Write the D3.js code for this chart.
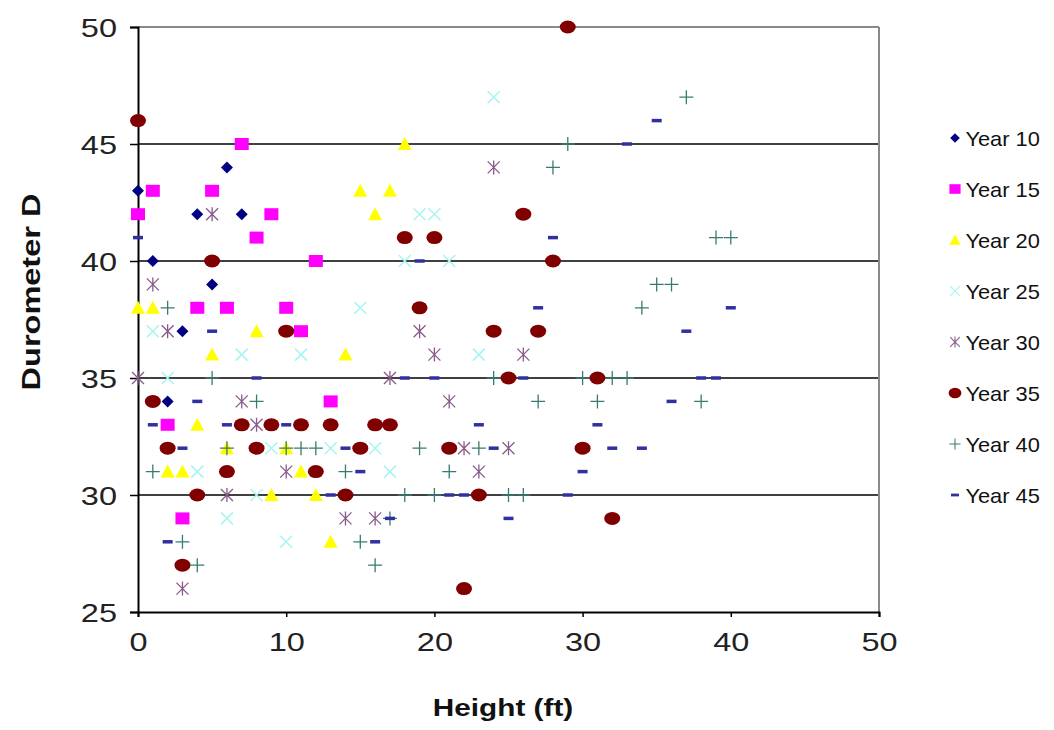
<!DOCTYPE html>
<html><head><meta charset="utf-8">
<script src="https://cdn.jsdelivr.net/npm/d3@7"></script>
<style>html,body{margin:0;padding:0;background:#fff;}svg{display:block;}</style>
</head><body>
<svg id="chart" width="1054" height="730"></svg>
<script>
const xTicks = [0,10,20,30,40,50];
const yTicks = [25,30,35,40,45,50];
const seriesNames = ["Year 10","Year 15","Year 20","Year 25","Year 30","Year 35","Year 40","Year 45"];
const year10 = [[0,43],[6,44],[4,42],[7,42],[1,40],[5,39],[3,37],[2,34],[9,33]];
const year15 = [[7,45],[1,43],[5,43],[0,42],[9,42],[8,41],[12,40],[4,38],[6,38],[10,38],[11,37],[13,34],[2,33],[3,29]];
const year20 = [[18,45],[15,43],[17,43],[16,42],[0,38],[1,38],[8,37],[5,36],[14,36],[4,33],[6,32],[10,32],[2,31],[3,31],[11,31],[9,30],[12,30],[13,28]];
const year25 = [[24,47],[19,42],[20,42],[18,40],[21,40],[15,38],[1,37],[7,36],[11,36],[23,36],[2,35],[9,32],[13,32],[16,32],[4,31],[17,31],[8,30],[6,29],[10,28]];
const year30 = [[24,44],[5,42],[1,39],[2,37],[19,37],[20,36],[26,36],[0,35],[17,35],[7,34],[21,34],[8,33],[22,32],[25,32],[10,31],[23,31],[6,30],[14,29],[16,29],[3,26]];
const year35 = [[29,50],[0,46],[26,42],[18,41],[20,41],[5,40],[28,40],[19,38],[10,37],[24,37],[27,37],[25,35],[31,35],[1,34],[7,33],[9,33],[11,33],[13,33],[16,33],[17,33],[2,32],[8,32],[15,32],[21,32],[30,32],[6,31],[12,31],[4,30],[14,30],[23,30],[32,29],[3,27],[22,26]];
const year40 = [[37,47],[29,45],[28,44],[39,41],[40,41],[35,39],[36,39],[2,38],[34,38],[5,35],[24,35],[30,35],[32,35],[33,35],[8,34],[27,34],[31,34],[38,34],[6,32],[10,32],[11,32],[12,32],[19,32],[23,32],[1,31],[14,31],[21,31],[18,30],[20,30],[25,30],[26,30],[17,29],[3,28],[15,28],[4,27],[16,27]];
const year45 = [[35,46],[33,45],[0,41],[28,41],[19,40],[27,38],[40,38],[5,37],[37,37],[8,35],[18,35],[20,35],[26,35],[38,35],[39,35],[4,34],[36,34],[1,33],[6,33],[10,33],[23,33],[31,33],[3,32],[14,32],[24,32],[32,32],[34,32],[15,31],[30,31],[13,30],[21,30],[22,30],[29,30],[25,29],[17,29],[2,28],[16,28]];

const seriesData = [year10,year15,year20,year25,year30,year35,year40,year45];
const colors = ["#000080","#ff00ff","#ffff00","#a8f4f0","#8a5a8a","#800000","#3a7a70","#3030a0"];
const shapes = ["diamond","square","triangle","x","asterisk","circle","plus","dash"];

const svg = d3.select("#chart");
const L=138, R=879, T=27, B=612;
const x = d3.scaleLinear().domain([0,50]).range([L,R]);
const y = d3.scaleLinear().domain([25,50]).range([B,T]);
const font = "'Liberation Sans', Arial, sans-serif";
const SX = 1.25;

// grid lines
svg.append("g").selectAll("line").data(yTicks.filter(d=>d>25)).join("line")
  .attr("x1",L).attr("x2",R).attr("y1",d=>y(d)).attr("y2",d=>y(d))
  .attr("stroke",d=>d===50?"#8a8a8a":"#404040").attr("stroke-width",2);
// right border
svg.append("line").attr("x1",R).attr("x2",R).attr("y1",T).attr("y2",B).attr("stroke","#8a8a8a").attr("stroke-width",2);

// axes
const yAxis = svg.append("g").attr("transform",`translate(${L},0)`)
  .call(d3.axisLeft(y).tickValues(yTicks).tickSize(8).tickPadding(12).tickFormat(d3.format("d")));
const xAxis = svg.append("g").attr("transform",`translate(0,${B})`)
  .call(d3.axisBottom(x).tickValues(xTicks).tickSize(5).tickPadding(12).tickFormat(d3.format("d")));
[yAxis,xAxis].forEach(a=>{
  a.select(".domain").attr("stroke","#000").attr("stroke-width",2);
  a.selectAll(".tick line").attr("stroke","#000").attr("stroke-width",1.5);
  a.selectAll("text").attr("font-family",font).attr("font-size",26).attr("fill","#222")
    .attr("transform",`scale(${SX},1)`);
});
yAxis.selectAll("text").attr("dy","0.36em").attr("x",-21/SX);
xAxis.selectAll("text").attr("dy","0.85em");

// marker drawing
function drawMarker(g, shape, color){
  switch(shape){
    case "diamond": g.append("path").attr("d","M0,-6L6,0L0,6L-6,0Z").attr("fill",color); break;
    case "square": g.append("rect").attr("x",-7).attr("y",-6).attr("width",14).attr("height",12).attr("fill",color); break;
    case "triangle": g.append("path").attr("d","M0,-7L7,6L-7,6Z").attr("fill",color); break;
    case "circle": g.append("ellipse").attr("rx",8).attr("ry",6.5).attr("fill",color); break;
    case "x": g.append("path").attr("d","M-6,-6L6,6M-6,6L6,-6").attr("stroke",color).attr("stroke-width",1.5).attr("fill","none"); break;
    case "asterisk": g.append("path").attr("d","M-6,-6L6,6M-6,6L6,-6M0,-7L0,7").attr("stroke",color).attr("stroke-width",1.3).attr("fill","none"); break;
    case "plus": g.append("path").attr("d","M-7,0L7,0M0,-7L0,7").attr("stroke",color).attr("stroke-width",1.3).attr("fill","none"); break;
    case "dash": g.append("path").attr("d","M-5,0L5,0").attr("stroke",color).attr("stroke-width",3.5).attr("fill","none"); break;
  }
}

seriesData.forEach((data,i)=>{
  const g = svg.append("g").attr("class","series");
  g.selectAll("g").data(data).join("g")
    .attr("transform",d=>`translate(${x(d[0])},${y(d[1])})`)
    .each(function(){ drawMarker(d3.select(this), shapes[i], colors[i]); });
});

// legend
const legendY = d3.scalePoint().domain(seriesNames).range([138,495]);
seriesNames.forEach((name,i)=>{
  const g = svg.append("g").attr("transform",`translate(955,${legendY(name)})`);
  drawMarker(g.append("g").attr("transform","scale(0.8)"), shapes[i], colors[i]);
  g.append("text").attr("x",10).attr("dy","0.36em").attr("font-family",font).attr("font-size",21)
    .attr("transform","scale(1.04,1)").attr("fill","#111").text(name);
});

// axis titles
svg.append("text").attr("transform",`translate(40,292) rotate(-90) scale(1.3,1)`)
  .attr("text-anchor","middle").attr("font-family",font).attr("font-weight","bold").attr("font-size",25)
  .attr("fill","#111").text("Durometer D");
svg.append("text").attr("transform",`translate(503,716) scale(1.24,1)`).attr("text-anchor","middle")
  .attr("font-family",font).attr("font-weight","bold").attr("font-size",24).attr("fill","#111").text("Height (ft)");
</script>
</body></html>
